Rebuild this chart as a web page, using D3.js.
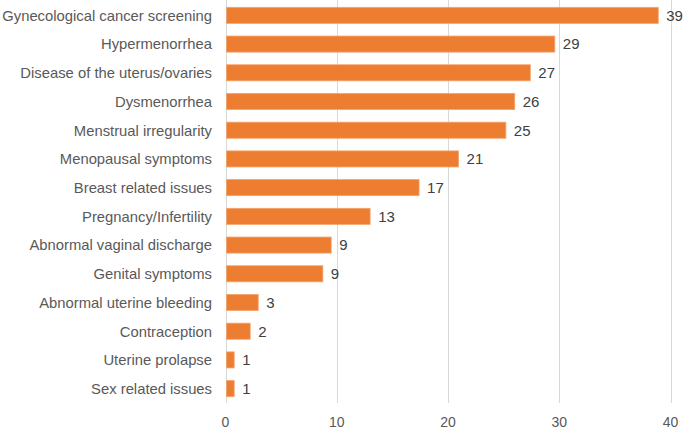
<!DOCTYPE html>
<html>
<head>
<meta charset="utf-8">
<script src="https://cdn.jsdelivr.net/npm/d3@7"></script>
<style>
  body { margin: 0; background: #fff; }
  text { font-family: "Liberation Sans", Arial, sans-serif; }
</style>
</head>
<body>
<svg width="685" height="429"></svg>
<script>
// categories top to bottom
var categories = [
  "Gynecological cancer screening",
  "Hypermenorrhea",
  "Disease of the uterus/ovaries",
  "Dysmenorrhea",
  "Menstrual irregularity",
  "Menopausal symptoms",
  "Breast related issues",
  "Pregnancy/Infertility",
  "Abnormal vaginal discharge",
  "Genital symptoms",
  "Abnormal uterine bleeding",
  "Contraception",
  "Uterine prolapse",
  "Sex related issues"
];
// bar lengths as drawn
var values = [38.9, 29.6, 27.4, 26.0, 25.2, 20.95, 17.4, 13.0, 9.5, 8.75, 2.94, 2.22, 0.78, 0.78];
// printed labels
var labels = [39, 29, 27, 26, 25, 21, 17, 13, 9, 9, 3, 2, 1, 1];
var ticks = [0, 10, 20, 30, 40];

var svg = d3.select("svg");
var plotLeft = 225.5, plotRight = 670.5, plotTop = 1, plotBottom = 403;

var x = d3.scaleLinear().domain([0, 40]).range([plotLeft, plotRight]);
var y = d3.scaleBand().domain(categories).range([plotTop, plotBottom]).paddingInner(0.44).paddingOuter(0.22);

var data = categories.map(function(c, i) { return {key: c, value: values[i], label: labels[i]}; });

// gridlines
svg.append("g").selectAll("line")
  .data(ticks)
  .enter().append("line")
  .attr("x1", function(d) { return Math.round(x(d)) + 0.5; })
  .attr("x2", function(d) { return Math.round(x(d)) + 0.5; })
  .attr("y1", 0)
  .attr("y2", plotBottom)
  .attr("stroke", "#d9d9d9")
  .attr("stroke-width", 1);

// tick labels
svg.append("g").selectAll("text")
  .data(ticks)
  .enter().append("text")
  .attr("x", function(d) { return x(d); })
  .attr("y", 427)
  .attr("text-anchor", "middle")
  .attr("font-size", "14px")
  .attr("fill", "#595959")
  .text(function(d) { return d; });

// bars
svg.append("g").selectAll("rect")
  .data(data)
  .enter().append("rect")
  .attr("x", x(0) + 1)
  .attr("y", function(d) { return y(d.key); })
  .attr("width", function(d) { return x(d.value) - x(0) - 1; })
  .attr("height", y.bandwidth())
  .attr("fill", "#ed7d31")
  .attr("stroke", "#f3a46c")
  .attr("stroke-width", 0.8);

// value labels
svg.append("g").selectAll("text")
  .data(data)
  .enter().append("text")
  .attr("x", function(d) { return x(d.value) + 8; })
  .attr("y", function(d) { return y(d.key) + y.bandwidth() / 2; })
  .attr("dy", "0.36em")
  .attr("font-size", "15px")
  .attr("fill", "#404040")
  .text(function(d) { return d.label; });

// category labels
svg.append("g").selectAll("text")
  .data(data)
  .enter().append("text")
  .attr("x", 212)
  .attr("y", function(d) { return y(d.key) + y.bandwidth() / 2; })
  .attr("dy", "0.36em")
  .attr("text-anchor", "end")
  .attr("font-size", "14.8px")
  .attr("fill", "#595959")
  .text(function(d) { return d.key; });
</script>
</body>
</html>
